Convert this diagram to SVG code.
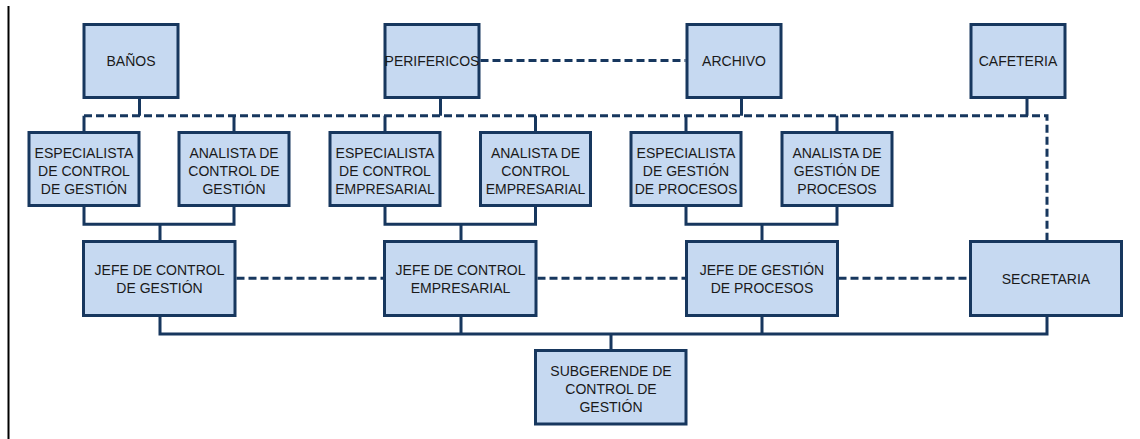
<svg xmlns="http://www.w3.org/2000/svg" width="1140" height="439" viewBox="0 0 1140 439">
<style>
.box{fill:#C6D9F1;stroke:#17375E;stroke-width:3}
.t{font-family:"Liberation Sans",Arial,sans-serif;font-size:14px;fill:#1a1a1a;text-anchor:middle}
.solid{fill:none;stroke:#17375E;stroke-width:3}
.dash{fill:none;stroke:#17375E;stroke-width:3;stroke-dasharray:8 4}
</style>
<rect x="0" y="0" width="1140" height="439" fill="#ffffff"/>
<line x1="8.5" y1="6" x2="8.5" y2="439" stroke="#000000" stroke-width="2"/>
<g id="connectors">
  <path class="dash" d="M480.5,60.5 H685.5"/>
  <path class="solid" d="M139.5,99 V115.7 M440.5,99 V115.7 M741.5,99 V115.7 M1027,99 V115.7"/>
  <path class="dash" d="M84,115.7 H1047 V240"/>
  <path class="solid" d="M84,115.7 V132 M234,115.7 V132 M385,115.7 V132 M535.5,115.7 V132 M686,115.7 V132 M837,115.7 V132"/>
  <path class="dash" d="M236.5,278.3 H383 M537.5,278.3 H685 M838.5,278.3 H969"/>
  <path class="solid" d="M84,206 V224.3 H234 V206 M160,224.3 V241"/>
  <path class="solid" d="M385,206 V224.3 H535.5 V206 M461,224.3 V241"/>
  <path class="solid" d="M686,206 V224.3 H837 V206 M762,224.3 V241"/>
  <path class="solid" d="M160,316 V334 H1047 V316 M461,316 V334 M762,316 V334 M611,334 V350.5"/>
</g>
<g id="banos"><rect class="box" x="84" y="24.5" width="94" height="73"/><text class="t" x="131" y="65.5">BAÑOS</text></g>
<g id="perifericos"><rect class="box" x="385" y="24.5" width="94" height="73"/><text class="t" x="432" y="65.5">PERIFERICOS</text></g>
<g id="archivo"><rect class="box" x="687" y="24.5" width="94" height="73"/><text class="t" x="734" y="65.5">ARCHIVO</text></g>
<g id="cafeteria"><rect class="box" x="971" y="24.5" width="94" height="73"/><text class="t" x="1018" y="65.5">CAFETERIA</text></g>

<g id="esp-control-gestion"><rect class="box" x="29" y="132.5" width="110" height="73"/>
<text class="t" x="84" y="157.5" textLength="99" lengthAdjust="spacingAndGlyphs">ESPECIALISTA</text><text class="t" x="84" y="176">DE CONTROL</text><text class="t" x="84" y="194">DE GESTIÓN</text></g>
<g id="ana-control-gestion"><rect class="box" x="179" y="132.5" width="110" height="73"/>
<text class="t" x="234" y="157.5">ANALISTA DE</text><text class="t" x="234" y="176">CONTROL DE</text><text class="t" x="234" y="194">GESTIÓN</text></g>
<g id="esp-control-empresarial"><rect class="box" x="330" y="132.5" width="110" height="73"/>
<text class="t" x="385" y="157.5" textLength="99" lengthAdjust="spacingAndGlyphs">ESPECIALISTA</text><text class="t" x="385" y="176">DE CONTROL</text><text class="t" x="385" y="194">EMPRESARIAL</text></g>
<g id="ana-control-empresarial"><rect class="box" x="480.5" y="132.5" width="110" height="73"/>
<text class="t" x="535.5" y="157.5">ANALISTA DE</text><text class="t" x="535.5" y="176">CONTROL</text><text class="t" x="535.5" y="194">EMPRESARIAL</text></g>
<g id="esp-gestion-procesos"><rect class="box" x="631" y="132.5" width="110" height="73"/>
<text class="t" x="686" y="157.5" textLength="99" lengthAdjust="spacingAndGlyphs">ESPECIALISTA</text><text class="t" x="686" y="176">DE GESTIÓN</text><text class="t" x="686" y="194">DE PROCESOS</text></g>
<g id="ana-gestion-procesos"><rect class="box" x="782" y="132.5" width="110" height="73"/>
<text class="t" x="837" y="157.5">ANALISTA DE</text><text class="t" x="837" y="176">GESTIÓN DE</text><text class="t" x="837" y="194">PROCESOS</text></g>

<g id="jefe-control-gestion"><rect class="box" x="83.5" y="241.5" width="151.5" height="74"/>
<text class="t" x="159.5" y="274.5">JEFE DE CONTROL</text><text class="t" x="159.5" y="293">DE GESTIÓN</text></g>
<g id="jefe-control-empresarial"><rect class="box" x="384.5" y="241.5" width="151.5" height="74"/>
<text class="t" x="460.5" y="274.5">JEFE DE CONTROL</text><text class="t" x="460.5" y="293">EMPRESARIAL</text></g>
<g id="jefe-gestion-procesos"><rect class="box" x="686.5" y="241.5" width="151" height="74"/>
<text class="t" x="762" y="274.5">JEFE DE GESTIÓN</text><text class="t" x="762" y="293">DE PROCESOS</text></g>
<g id="secretaria"><rect class="box" x="970.5" y="241.5" width="151" height="74"/>
<text class="t" x="1046" y="283.5">SECRETARIA</text></g>

<g id="subgerende"><rect class="box" x="535.5" y="350.5" width="150.5" height="73.5"/>
<text class="t" x="611" y="375.5">SUBGERENDE DE</text><text class="t" x="611" y="393.5">CONTROL DE</text><text class="t" x="611" y="412">GESTIÓN</text></g>
</svg>
